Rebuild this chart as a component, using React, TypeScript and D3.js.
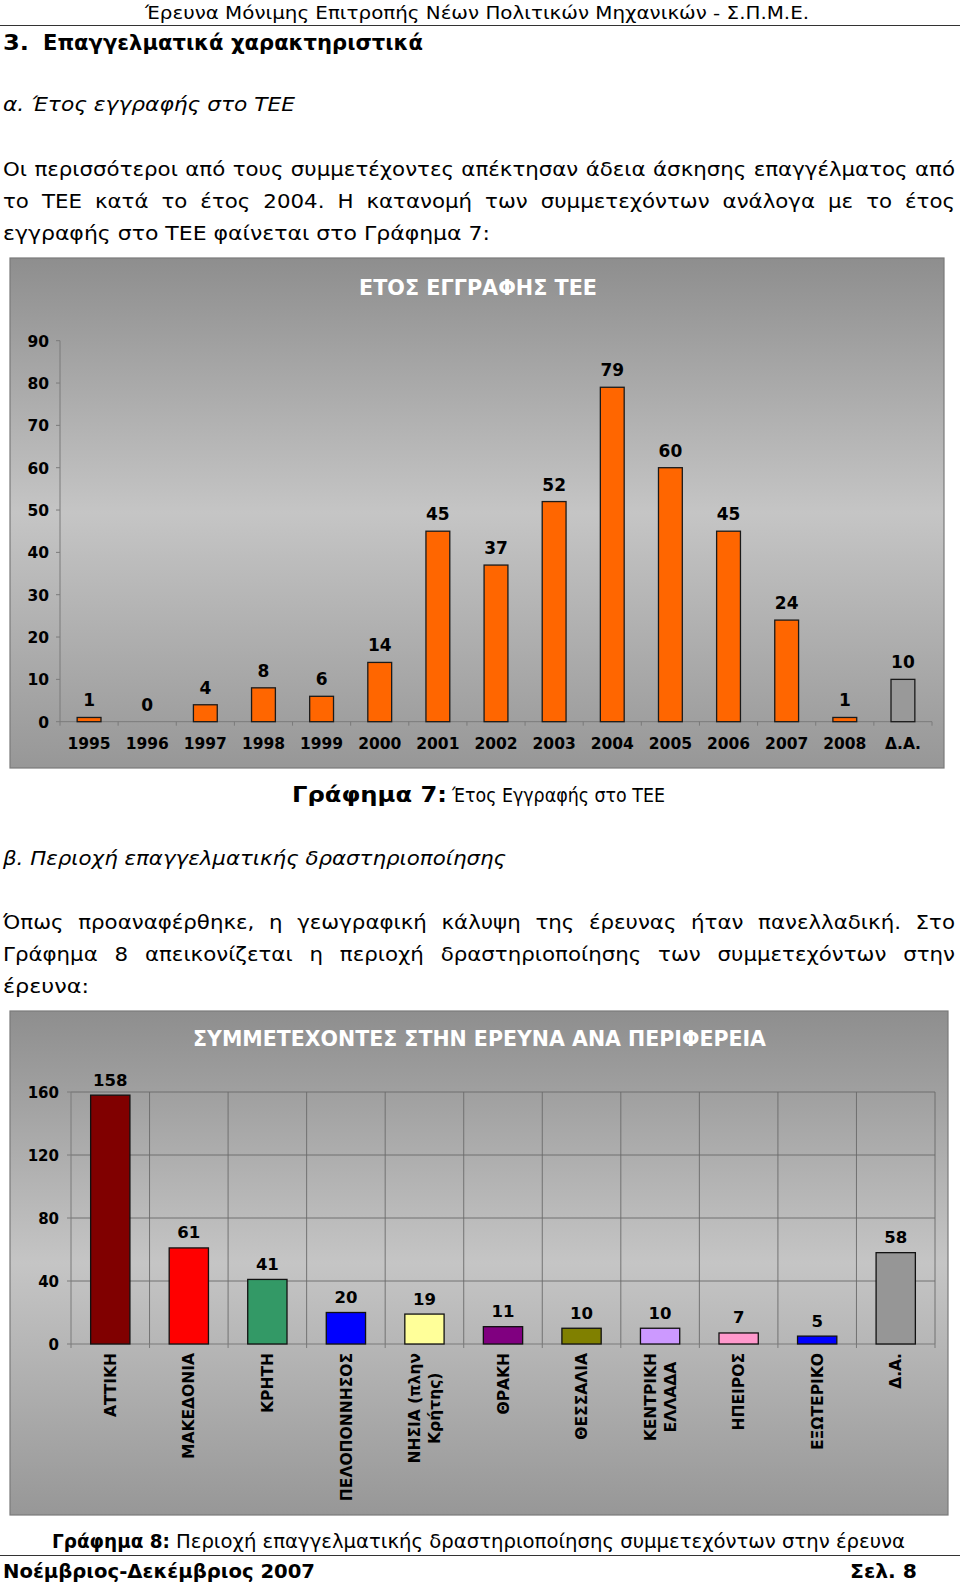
import * as d3 from 'd3';
import React, { useEffect, useRef } from 'react';

const FONT = "'DejaVu Sans', Verdana, sans-serif";

// Γράφημα 7
const years = ['1995', '1996', '1997', '1998', '1999', '2000', '2001', '2002', '2003', '2004', '2005', '2006', '2007', '2008', 'Δ.Α.'];
const yearCounts = [1, 0, 4, 8, 6, 14, 45, 37, 52, 79, 60, 45, 24, 1, 10];
const yearTicks = [0, 10, 20, 30, 40, 50, 60, 70, 80, 90];
const yearColors = years.map((y) => (y === 'Δ.Α.' ? '#999999' : '#ff6600'));

// Γράφημα 8
const regions = [
  ['ΑΤΤΙΚΗ'],
  ['ΜΑΚΕΔΟΝΙΑ'],
  ['ΚΡΗΤΗ'],
  ['ΠΕΛΟΠΟΝΝΗΣΟΣ'],
  ['ΝΗΣΙΑ (πλην', 'Κρήτης)'],
  ['ΘΡΑΚΗ'],
  ['ΘΕΣΣΑΛΙΑ'],
  ['ΚΕΝΤΡΙΚΗ', 'ΕΛΛΑΔΑ'],
  ['ΗΠΕΙΡΟΣ'],
  ['ΕΞΩΤΕΡΙΚΟ'],
  ['Δ.Α.'],
];
const regionCounts = [158, 61, 41, 20, 19, 11, 10, 10, 7, 5, 58];
const regionColors = ['#800000', '#ff0000', '#339966', '#0000ff', '#ffff99', '#800080', '#808000', '#cc99ff', '#ff99cc', '#0000ff', '#969696'];
const regionTicks = [0, 40, 80, 120, 160];

type G = d3.Selection<SVGGElement, unknown, null, undefined>;

const fitText = (
  g: G, s: string, x: number, y: number, w: number | null, size: number,
  weight = 'normal', style = 'normal',
) => {
  const t = g.append('text')
    .attr('x', x).attr('y', y)
    .attr('font-family', FONT).attr('font-size', size)
    .attr('font-weight', weight).attr('font-style', style)
    .attr('fill', '#000')
    .text(s);
  if (w) t.attr('textLength', w).attr('lengthAdjust', 'spacingAndGlyphs');
  return t;
};

const textLen = (g: G, s: string, size: number) => {
  const t = g.append('text').attr('font-family', FONT).attr('font-size', size).text(s);
  const l = (t.node() as SVGTextElement).getComputedTextLength();
  t.remove();
  return l;
};

// justified line: words (widened by k) spread between x0 and x1
const justify = (g: G, s: string, x0: number, x1: number, y: number, size: number, k: number) => {
  const words = s.split(' ');
  const nodes = words.map((w) =>
    g.append('text').attr('y', y).attr('font-family', FONT).attr('font-size', size).attr('fill', '#000').text(w));
  const lens = nodes.map((n) => (n.node() as SVGTextElement).getComputedTextLength() * k);
  const total = d3.sum(lens);
  const gap = (x1 - x0 - total) / (words.length - 1);
  let x = x0;
  nodes.forEach((n, i) => {
    n.attr('x', x).attr('textLength', lens[i]).attr('lengthAdjust', 'spacingAndGlyphs');
    x += lens[i] + gap;
  });
};

const App = () => {
  const ref = useRef<SVGSVGElement>(null);

  useEffect(() => {
    const svg = d3.select(ref.current);
    svg.selectAll('*').remove();

    const defs = svg.append('defs');
    const grad = defs.append('linearGradient').attr('id', 'bg').attr('x1', 0).attr('y1', 0).attr('x2', 0).attr('y2', 1);
    grad.append('stop').attr('offset', '0%').attr('stop-color', '#8e8e8e');
    grad.append('stop').attr('offset', '50%').attr('stop-color', '#c5c5c5');
    grad.append('stop').attr('offset', '100%').attr('stop-color', '#979797');

    const page = svg.append('g') as unknown as G;

    // widening factor from DejaVu to the original font, taken from an unjustified line
    const line3 = 'εγγραφής στο ΤΕΕ φαίνεται στο Γράφημα 7:';
    const k = (487 / textLen(page, line3, 20)) * 0.97;

    // page text
    fitText(page, 'Έρευνα Μόνιμης Επιτροπής Νέων Πολιτικών Μηχανικών - Σ.Π.Μ.Ε.', 145, 19, 664, 17);
    page.append('line').attr('x1', 0).attr('x2', 960).attr('y1', 25.5).attr('y2', 25.5).attr('stroke', '#333').attr('stroke-width', 1.2);
    fitText(page, '3.', 3, 50, 26, 22, 'bold');
    fitText(page, 'Επαγγελματικά χαρακτηριστικά', 43, 50, 380, 22, 'bold');
    fitText(page, 'α. Έτος εγγραφής στο ΤΕΕ', 3, 111, 292, 20, 'normal', 'italic');
    justify(page, 'Οι περισσότεροι από τους συμμετέχοντες απέκτησαν άδεια άσκησης επαγγέλματος από', 3, 955, 176, 20, k);
    justify(page, 'το ΤΕΕ κατά το έτος 2004. Η κατανομή των συμμετεχόντων ανάλογα με το έτος', 3, 955, 208, 20, k);
    fitText(page, line3, 3, 240, 487, 20);

    fitText(page, 'Γράφημα 7:', 292, 802, 155, 21, 'bold');
    fitText(page, 'Έτος Εγγραφής στο ΤΕΕ', 452, 802, 213, 19.5);
    fitText(page, 'β. Περιοχή επαγγελματικής δραστηριοποίησης', 3, 865, 503, 20, 'normal', 'italic');
    justify(page, 'Όπως προαναφέρθηκε, η γεωγραφική κάλυψη της έρευνας ήταν πανελλαδική. Στο', 3, 955, 929, 20, k);
    justify(page, 'Γράφημα 8 απεικονίζεται η περιοχή δραστηριοποίησης των συμμετεχόντων στην', 3, 955, 961, 20, k);
    fitText(page, 'έρευνα:', 3, 993, 86, 20);

    fitText(page, 'Γράφημα 8:', 52, 1548, 118, 20, 'bold');
    fitText(page, 'Περιοχή επαγγελματικής δραστηριοποίησης συμμετεχόντων στην έρευνα', 176, 1548, 729, 19.5);
    page.append('line').attr('x1', 0).attr('x2', 960).attr('y1', 1555.5).attr('y2', 1555.5).attr('stroke', '#333').attr('stroke-width', 1.2);
    fitText(page, 'Νοέμβριος-Δεκέμβριος 2007', 3, 1578, 312, 20, 'bold');
    fitText(page, 'Σελ. 8', 850, 1578, 67, 20, 'bold');

    // ---------- Γράφημα 7 ----------
    const c1 = svg.append('g');
    c1.append('rect').attr('x', 10).attr('y', 258).attr('width', 934).attr('height', 510)
      .attr('fill', 'url(#bg)').attr('stroke', '#7a7a7a').attr('stroke-width', 1.2);
    c1.append('text').attr('x', 478).attr('y', 294.5).attr('text-anchor', 'middle')
      .attr('font-family', FONT).attr('font-size', 21).attr('font-weight', 'bold').attr('fill', '#fff')
      .attr('textLength', 238).attr('lengthAdjust', 'spacingAndGlyphs')
      .text('ΕΤΟΣ ΕΓΓΡΑΦΗΣ ΤΕΕ');

    const x1 = d3.scaleBand().domain(years).range([60, 932]);
    const y1 = d3.scaleLinear().domain([0, 90]).range([721.7, 340.7]);

    c1.append('line').attr('x1', 60).attr('x2', 60).attr('y1', y1(90)).attr('y2', y1(0)).attr('stroke', '#7a7a7a');
    c1.append('line').attr('x1', 60).attr('x2', 932).attr('y1', y1(0)).attr('y2', y1(0)).attr('stroke', '#7a7a7a');
    c1.selectAll('.yt').data(yearTicks).enter().append('line')
      .attr('x1', 56).attr('x2', 60).attr('y1', (d) => y1(d)).attr('y2', (d) => y1(d)).attr('stroke', '#7a7a7a');
    c1.selectAll('.yl').data(yearTicks).enter().append('text')
      .attr('x', 49).attr('y', (d) => y1(d) + 6).attr('text-anchor', 'end')
      .attr('font-family', FONT).attr('font-size', 15.5).attr('font-weight', 'bold').text((d) => d);
    const bounds1 = years.map((y) => x1(y) as number).concat([932]);
    c1.selectAll('.xt').data(bounds1).enter().append('line')
      .attr('x1', (d) => d).attr('x2', (d) => d).attr('y1', y1(0)).attr('y2', y1(0) + 4).attr('stroke', '#7a7a7a');
    c1.selectAll('.xl').data(years).enter().append('text')
      .attr('x', (d) => (x1(d) as number) + x1.bandwidth() / 2).attr('y', 749).attr('text-anchor', 'middle')
      .attr('font-family', FONT).attr('font-size', 15.5).attr('font-weight', 'bold').text((d) => d);

    const bw1 = x1.bandwidth() * 0.41;
    c1.selectAll('.bar').data(yearCounts.map((v, i) => ({ v, i })).filter((d) => d.v > 0)).enter().append('rect')
      .attr('x', (d) => (x1(years[d.i]) as number) + x1.bandwidth() / 2 - bw1 / 2)
      .attr('y', (d) => y1(d.v)).attr('width', bw1).attr('height', (d) => y1(0) - y1(d.v))
      .attr('fill', (d) => yearColors[d.i]).attr('stroke', '#1a1a1a').attr('stroke-width', 1.3);
    c1.selectAll('.vl').data(yearCounts).enter().append('text')
      .attr('x', (d, i) => (x1(years[i]) as number) + x1.bandwidth() / 2).attr('y', (d) => y1(d) - 11)
      .attr('text-anchor', 'middle').attr('font-family', FONT).attr('font-size', 17).attr('font-weight', 'bold')
      .text((d) => d);

    // ---------- Γράφημα 8 ----------
    const c2 = svg.append('g');
    c2.append('rect').attr('x', 10).attr('y', 1011).attr('width', 938).attr('height', 504)
      .attr('fill', 'url(#bg)').attr('stroke', '#7a7a7a').attr('stroke-width', 1.2);
    c2.append('text').attr('x', 479.5).attr('y', 1045.5).attr('text-anchor', 'middle')
      .attr('font-family', FONT).attr('font-size', 21).attr('font-weight', 'bold').attr('fill', '#fff')
      .attr('textLength', 573).attr('lengthAdjust', 'spacingAndGlyphs')
      .text('ΣΥΜΜΕΤΕΧΟΝΤΕΣ ΣΤΗΝ ΕΡΕΥΝΑ ΑΝΑ ΠΕΡΙΦΕΡΕΙΑ');

    const idx = regions.map((_, i) => String(i));
    const x2 = d3.scaleBand().domain(idx).range([71, 935]);
    const y2 = d3.scaleLinear().domain([0, 160]).range([1344, 1092]);

    c2.selectAll('.hg').data(regionTicks.filter((t) => t > 0)).enter().append('line')
      .attr('x1', 71).attr('x2', 935).attr('y1', (d) => y2(d)).attr('y2', (d) => y2(d))
      .attr('stroke', '#6a6a6a').attr('stroke-width', 0.9);
    const bounds2 = idx.map((i) => x2(i) as number).concat([935]);
    c2.selectAll('.vg').data(bounds2.slice(1)).enter().append('line')
      .attr('x1', (d) => d).attr('x2', (d) => d).attr('y1', y2(160)).attr('y2', y2(0))
      .attr('stroke', '#6a6a6a').attr('stroke-width', 0.9);
    c2.append('line').attr('x1', 71).attr('x2', 71).attr('y1', y2(160)).attr('y2', y2(0)).attr('stroke', '#7a7a7a');
    c2.append('line').attr('x1', 71).attr('x2', 935).attr('y1', y2(0)).attr('y2', y2(0)).attr('stroke', '#7a7a7a');
    c2.selectAll('.yt').data(regionTicks).enter().append('line')
      .attr('x1', 67).attr('x2', 71).attr('y1', (d) => y2(d)).attr('y2', (d) => y2(d)).attr('stroke', '#7a7a7a');
    c2.selectAll('.xt').data(bounds2).enter().append('line')
      .attr('x1', (d) => d).attr('x2', (d) => d).attr('y1', y2(0)).attr('y2', y2(0) + 4).attr('stroke', '#7a7a7a');
    c2.selectAll('.yl').data(regionTicks).enter().append('text')
      .attr('x', 59).attr('y', (d) => y2(d) + 5.5).attr('text-anchor', 'end')
      .attr('font-family', FONT).attr('font-size', 15).attr('font-weight', 'bold').text((d) => d);

    const bw2 = x2.bandwidth() * 0.5;
    c2.selectAll('.bar').data(regionCounts).enter().append('rect')
      .attr('x', (d, i) => (x2(String(i)) as number) + x2.bandwidth() / 2 - bw2 / 2)
      .attr('y', (d) => y2(d)).attr('width', bw2).attr('height', (d) => y2(0) - y2(d))
      .attr('fill', (d, i) => regionColors[i]).attr('stroke', '#111').attr('stroke-width', 1.3);
    c2.selectAll('.vl').data(regionCounts).enter().append('text')
      .attr('x', (d, i) => (x2(String(i)) as number) + x2.bandwidth() / 2).attr('y', (d) => y2(d) - 9.5)
      .attr('text-anchor', 'middle').attr('font-family', FONT).attr('font-size', 16.5).attr('font-weight', 'bold')
      .text((d) => d);

    // rotated category labels
    regions.forEach((lines, i) => {
      const cx = (x2(String(i)) as number) + x2.bandwidth() / 2;
      const texts = lines.map((s, j) => {
        const lx = cx + (j - (lines.length - 1) / 2) * 20;
        return c2.append('text')
          .attr('transform', `translate(${lx},1353) rotate(-90)`)
          .attr('text-anchor', 'end').attr('dy', '0.36em')
          .attr('font-family', FONT).attr('font-size', 15.5).attr('font-weight', 'bold')
          .text(s);
      });
      const lens = texts.map((t) => (t.node() as SVGTextElement).getComputedTextLength());
      const maxLen = d3.max(lens) || 0;
      texts.forEach((t, j) => {
        const lx = cx + (j - (lines.length - 1) / 2) * 20;
        t.attr('transform', `translate(${lx},${1353 + (maxLen - lens[j]) / 2}) rotate(-90)`);
      });
    });
  }, []);

  return (
    <div style={{ position: 'absolute', left: 0, top: 0 }}>
      <svg ref={ref} width={960} height={1586} style={{ display: 'block' }} />
    </div>
  );
};

export default App;
